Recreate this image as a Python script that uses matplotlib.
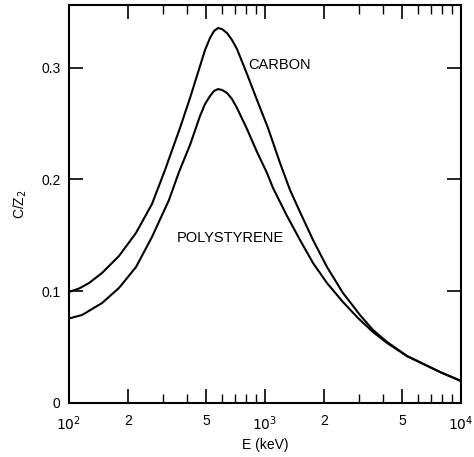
import matplotlib
matplotlib.use("Agg")
import matplotlib.pyplot as plt
from matplotlib.ticker import FixedLocator, FixedFormatter, NullFormatter

plt.rcParams['font.family'] = ['Liberation Sans', 'DejaVu Sans']

# Carbon curve (E in keV, C/Z2)
carbon_E = [100, 112.5, 126.5, 147.4, 179.9, 219.7, 265.1, 308.9, 368.4, 414.4,
            466.0, 494.2, 524.1, 549.3, 575.8, 603.5, 640.0, 678.6, 719.6, 809.3,
            910.5, 1036, 1193, 1342, 1509, 1758, 2072, 2500, 3052, 3556,
            4194, 5303, 7816, 10000]
carbon_C = [0.0993, 0.1024, 0.1073, 0.1163, 0.1315, 0.1521, 0.1780, 0.2084, 0.2460, 0.2728,
            0.3014, 0.3157, 0.3265, 0.3327, 0.3354, 0.3345, 0.3309, 0.3247, 0.3166, 0.2943,
            0.2710, 0.2460, 0.2147, 0.1905, 0.1708, 0.1458, 0.1216, 0.0984, 0.0787, 0.0653,
            0.0546, 0.0420, 0.0277, 0.0197]

# Polystyrene curve
poly_E = [100, 116.5, 147.4, 179.9, 219.7, 265.1, 323.7, 364.0, 414.4, 466.0,
          494.2, 524.1, 549.3, 575.8, 603.5, 640.0, 678.6, 719.6, 809.3, 910.5,
          1024, 1099, 1295, 1509, 1758, 2072, 2500, 2982, 3556, 4194,
          5303, 7816, 10000]
poly_C = [0.0756, 0.0787, 0.0894, 0.1029, 0.1216, 0.1485, 0.1816, 0.2066, 0.2308, 0.2567,
          0.2674, 0.2746, 0.2791, 0.2808, 0.2800, 0.2773, 0.2719, 0.2639, 0.2451, 0.2245,
          0.2057, 0.1923, 0.1673, 0.1458, 0.1252, 0.1073, 0.0903, 0.0760, 0.0635, 0.0537,
          0.0420, 0.0277, 0.0197]

x_major = [100, 200, 500, 1000, 2000, 5000, 10000]
x_major_labels = ['$10^2$', '2', '5', '$10^3$', '2', '5', '$10^4$']
x_minor = [300, 400, 600, 700, 800, 900, 3000, 4000, 6000, 7000, 8000, 9000]
y_ticks = [0, 0.1, 0.2, 0.3]
y_labels = ['0', '0.1', '0.2', '0.3']

fig = plt.figure(figsize=(4.74, 4.57), dpi=100)
ax = fig.add_axes([69/474, 1 - 403/457, (461-69)/474, (403-5)/457])

ax.plot(carbon_E, carbon_C, color='black', lw=1.5, solid_joinstyle='round')
ax.plot(poly_E, poly_C, color='black', lw=1.5, solid_joinstyle='round')

ax.set_xscale('log')
ax.set_xlim(100, 10000)
ax.set_ylim(0, 0.356)

ax.xaxis.set_major_locator(FixedLocator(x_major))
ax.xaxis.set_major_formatter(FixedFormatter(x_major_labels))
ax.xaxis.set_minor_locator(FixedLocator(x_minor))
ax.xaxis.set_minor_formatter(NullFormatter())
ax.set_yticks(y_ticks)
ax.set_yticklabels(y_labels)

ax.tick_params(axis='both', which='major', direction='in', length=10, width=1.2,
               top=True, right=True, labelsize=10)
ax.tick_params(axis='x', which='major', pad=8)
ax.tick_params(axis='y', which='major', pad=6)
ax.tick_params(axis='x', which='minor', direction='in', length=6.5, width=1.0,
               top=True)
for s in ax.spines.values():
    s.set_linewidth(1.5)

ax.set_xlabel('E (keV)', fontsize=10, labelpad=4)
ax.set_ylabel('C/Z$_2$', fontsize=10, labelpad=9)

ax.text(818, 0.3023, 'CARBON', fontsize=10.5, va='center', ha='left')
ax.text(356, 0.1476, 'POLYSTYRENE', fontsize=10.5, va='center', ha='left')

fig.savefig('out.png', dpi=100)
